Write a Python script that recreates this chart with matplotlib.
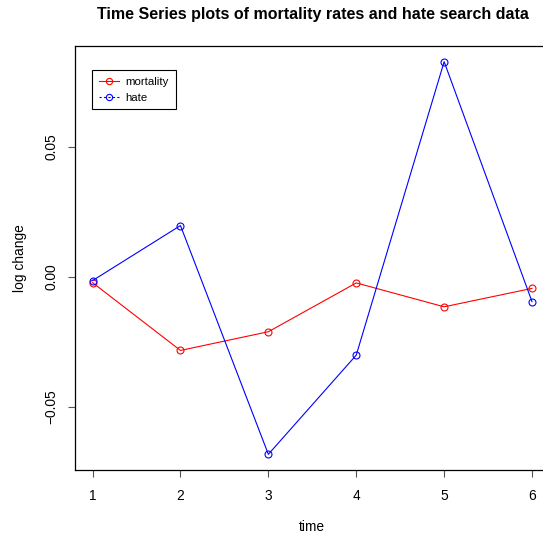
#
# mortality vs hate search, time series (log change)
#
import matplotlib
matplotlib.use("Agg")
import matplotlib.pyplot as plt

plt.rcParams['font.family'] = ['Liberation Sans', 'DejaVu Sans']

# data
time = [1, 2, 3, 4, 5, 6]
mortality = [-0.0023, -0.0284, -0.0212, -0.0024, -0.0116, -0.0045]
hate = [-0.0015, 0.0197, -0.0684, -0.0302, 0.0828, -0.0096]
xticks = [1, 2, 3, 4, 5, 6]
yticks = [-0.05, 0.00, 0.05]
ytick_labels = ["\u22120.05", "0.00", "0.05"]


def main():
    fig = plt.figure(figsize=(5.43, 5.35), dpi=100)
    ax = fig.add_axes([75 / 543, 65 / 535, 474.6 / 543, 424 / 535])

    ax.plot(time, mortality, color="red", lw=0.8, marker="o", ms=5,
            mfc="none", mew=0.8, label="mortality")
    ax.plot(time, hate, color="blue", lw=0.8, marker="o", ms=5,
            mfc="none", mew=0.8, label="hate")

    # R style ranges (+4%)
    ax.set_xlim(0.8, 6.2)
    lo = min(min(mortality), min(hate))
    hi = max(max(mortality), max(hate))
    pad = (hi - lo) * 0.04
    ax.set_ylim(lo - pad, hi + pad)

    ax.set_xticks(xticks)
    ax.set_yticks(yticks)
    ax.set_yticklabels(ytick_labels, rotation=90, va="center")
    ax.tick_params(axis="both", length=5, width=0.8, color="#555555",
                   labelsize=9.9)
    ax.tick_params(axis="x", pad=8.5)
    ax.tick_params(axis="y", pad=7)
    for s in ax.spines.values():
        s.set_linewidth(0.9)
    ax.spines["right"].set_visible(False)  # falls off the canvas in the original

    ax.set_xlabel("time", fontsize=9.9, labelpad=12.5)
    ax.set_ylabel("log change", fontsize=9.9, labelpad=12.5)
    fig.text(312.5 / 543, 1 - 14 / 535,
             "Time Series plots of mortality rates and hate search data",
             ha="center", va="center", fontsize=11.5, fontweight="bold")

    # legend (hate entry drawn dashed like the original)
    h_m, = ax.plot([], [], color="red", lw=0.8, marker="o", ms=4.5,
                   mfc="none", mew=0.8)
    h_h, = ax.plot([], [], color="blue", lw=0.8, ls=(0, (2, 2)), marker="o",
                   ms=4.5, mfc="none", mew=0.8)
    leg = ax.legend([h_m, h_h], ["mortality", "hate"], loc="upper left",
                    bbox_to_anchor=((92 - 75) / 474.6, (470 - 70) / 424),
                    borderaxespad=0, fancybox=False, edgecolor="black",
                    framealpha=1, fontsize=8.2, handlelength=1.8,
                    labelspacing=0.5, borderpad=0.6, handletextpad=0.55)
    leg.get_frame().set_linewidth(0.8)

    fig.savefig("out.png", dpi=100)


if __name__ == "__main__":
    main()
